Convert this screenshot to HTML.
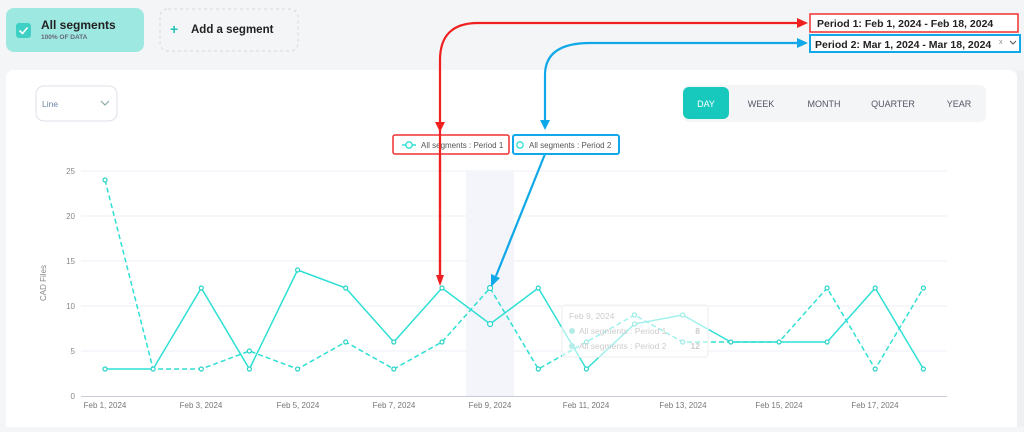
<!DOCTYPE html>
<html><head><meta charset="utf-8"><style>
body{margin:0;width:1024px;height:427px;overflow:hidden;background:#f4f5f7;font-family:"Liberation Sans",sans-serif}
</style></head><body>
<svg width="1024" height="427" xmlns="http://www.w3.org/2000/svg" font-family="Liberation Sans, sans-serif">
<rect width="1024" height="427" fill="#f4f5f7"/>
<!-- segment cards -->
<rect x="6" y="8" width="138" height="44" rx="8" fill="#9de8e1"/>
<rect x="16" y="23" width="15" height="15" rx="3" fill="#3fd0c5"/>
<path d="M19.5 30.5l3 3 5-6" stroke="#fff" stroke-width="1.6" fill="none"/>
<text x="41" y="29" font-size="12" font-weight="bold" fill="#222">All segments</text>
<text x="41" y="39" font-size="6.5" font-weight="bold" fill="#667">100% OF DATA</text>
<rect x="160" y="9" width="138" height="42" rx="8" fill="none" stroke="#d5d8dc" stroke-dasharray="3,3"/>
<text x="170" y="34" font-size="14" font-weight="bold" fill="#1fc2b6">+</text>
<text x="191" y="33" font-size="11.5" font-weight="bold" fill="#222">Add a segment</text>
<!-- main card -->
<rect x="6" y="70" width="1011" height="370" rx="8" fill="#fff"/>
<rect x="1017" y="70" width="7" height="360" fill="#eef0f2"/>
<rect x="36" y="86" width="81" height="35" rx="8" fill="#fff" stroke="#dde2e8"/>
<text x="42" y="107" font-size="8.5" fill="#6a86a6">Line</text>
<path d="M101 101l4 4 4-4" stroke="#8aa" fill="none" stroke-width="1.2"/>
<rect x="683" y="85" width="303" height="37" rx="6" fill="#f4f5f7"/>
<rect x="683" y="87" width="46" height="32" rx="6" fill="#17c8bc"/>
<g font-size="9" fill="#556" text-anchor="middle">
<text x="706" y="107" fill="#fff">DAY</text><text x="761" y="107">WEEK</text><text x="824" y="107">MONTH</text><text x="893" y="107">QUARTER</text><text x="959" y="107">YEAR</text></g>
<!-- grid -->
<g stroke="#eceff6" stroke-width="1">
<line x1="81" y1="171" x2="947" y2="171"/><line x1="81" y1="216" x2="947" y2="216"/><line x1="81" y1="261" x2="947" y2="261"/><line x1="81" y1="306" x2="947" y2="306"/><line x1="81" y1="351" x2="947" y2="351"/></g>
<rect x="466" y="171" width="48" height="225" fill="#f3f5fa"/>
<line x1="81" y1="396.5" x2="947" y2="396.5" stroke="#c8ccd4"/>
<g font-size="8" fill="#888" text-anchor="end">
<text x="75" y="174">25</text><text x="75" y="219">20</text><text x="75" y="264">15</text><text x="75" y="309">10</text><text x="75" y="354">5</text><text x="75" y="399">0</text></g>
<text transform="translate(46,283) rotate(-90)" font-size="8" fill="#888" text-anchor="middle">CAD Files</text>
<g font-size="8" fill="#777" text-anchor="middle">
<text x="105" y="408">Feb 1, 2024</text><text x="201" y="408">Feb 3, 2024</text><text x="298" y="408">Feb 5, 2024</text><text x="394" y="408">Feb 7, 2024</text><text x="490" y="408">Feb 9, 2024</text><text x="586" y="408">Feb 11, 2024</text><text x="683" y="408">Feb 13, 2024</text><text x="779" y="408">Feb 15, 2024</text><text x="875" y="408">Feb 17, 2024</text></g>
<!-- series -->
<polyline fill="none" stroke="#2ee0d4" stroke-width="1.5" points="105,369 153.1,369 201.3,288 249.4,369 297.6,270 345.7,288 393.8,342 442,288 490.1,324 538.3,288 586.4,369 634.5,324 682.7,315 730.8,342 779,342 827.1,342 875.2,288 923.4,369"/>
<polyline fill="none" stroke="#2ee0d4" stroke-width="1.5" stroke-dasharray="5,3" points="105,180 153.1,369 201.3,369 249.4,351 297.6,369 345.7,342 393.8,369 442,342 490.1,288 538.3,369 586.4,342 634.5,315 682.7,342 730.8,342 779,342 827.1,288 875.2,369 923.4,288"/>
<g fill="#fff" stroke="#2ad3c8" stroke-width="1.2">
<circle cx="105" cy="369" r="2"/><circle cx="153.1" cy="369" r="2"/><circle cx="201.3" cy="288" r="2"/><circle cx="249.4" cy="369" r="2"/><circle cx="297.6" cy="270" r="2"/><circle cx="345.7" cy="288" r="2"/><circle cx="393.8" cy="342" r="2"/><circle cx="442" cy="288" r="2"/><circle cx="490.1" cy="324" r="2.5"/><circle cx="538.3" cy="288" r="2"/><circle cx="586.4" cy="369" r="2"/><circle cx="634.5" cy="324" r="2"/><circle cx="682.7" cy="315" r="2"/><circle cx="730.8" cy="342" r="2"/><circle cx="779" cy="342" r="2"/><circle cx="827.1" cy="342" r="2"/><circle cx="875.2" cy="288" r="2"/><circle cx="923.4" cy="369" r="2"/>
<circle cx="105" cy="180" r="2"/><circle cx="201.3" cy="369" r="2"/><circle cx="249.4" cy="351" r="2"/><circle cx="297.6" cy="369" r="2"/><circle cx="345.7" cy="342" r="2"/><circle cx="393.8" cy="369" r="2"/><circle cx="442" cy="342" r="2"/><circle cx="490.1" cy="288" r="2.5"/><circle cx="538.3" cy="369" r="2"/><circle cx="586.4" cy="342" r="2"/><circle cx="634.5" cy="315" r="2"/><circle cx="682.7" cy="342" r="2"/><circle cx="827.1" cy="288" r="2"/><circle cx="875.2" cy="369" r="2"/><circle cx="923.4" cy="288" r="2"/></g>
<!-- tooltip faded -->
<rect x="562" y="305" width="146" height="52" rx="3" fill="#fff" fill-opacity="0.55" stroke="#eee"/>
<g font-size="8.5" fill="#ccc"><text x="569" y="319">Feb 9, 2024</text>
<circle cx="572" cy="331" r="3" fill="#b5ece7"/><text x="579" y="334">All segments : Period 1</text><text x="700" y="334" text-anchor="end" font-weight="bold">8</text>
<circle cx="572" cy="346" r="3" fill="#b5ece7"/><text x="579" y="349">All segments : Period 2</text><text x="700" y="349" text-anchor="end" font-weight="bold">12</text></g>
<!-- legend -->
<rect x="393" y="135" width="116" height="19" rx="2" fill="#fff" stroke="#f03030" stroke-width="1.5"/>
<line x1="402" y1="145" x2="416" y2="145" stroke="#2ee0d4" stroke-width="1.5"/><circle cx="409" cy="145" r="3.2" fill="#fff" stroke="#2ee0d4" stroke-width="1.3"/>
<text x="421" y="148" font-size="8" fill="#555">All segments : Period 1</text>
<rect x="513" y="135" width="106" height="19" rx="2" fill="#fff" stroke="#10a8e8" stroke-width="2"/>
<circle cx="520" cy="145" r="3.2" fill="#fff" stroke="#2ee0d4" stroke-width="1.3"/>
<text x="529" y="148" font-size="8" fill="#555">All segments : Period 2</text>
<!-- period boxes -->
<rect x="810" y="14" width="208" height="18" fill="#fff" stroke="#f03030" stroke-width="1.5"/>
<text x="817" y="27" font-size="10.5" font-weight="bold" fill="#222">Period 1: Feb 1, 2024 - Feb 18, 2024</text>
<rect x="810" y="35" width="210" height="17" fill="#fff" stroke="#10a8e8" stroke-width="2"/>
<text x="815" y="48" font-size="10.5" font-weight="bold" fill="#222">Period 2: Mar 1, 2024 - Mar 18, 2024</text>
<text x="999" y="44" font-size="7" fill="#888">x</text>
<path d="M1010 41l3 3 3-3" stroke="#555" fill="none"/>
<!-- arrows -->
<path d="M440 283 V60 Q440 23 478 23 H800" fill="none" stroke="#f02020" stroke-width="2.2"/>
<path d="M808 23l-11 -5v10z" fill="#f02020"/>
<path d="M440 135 v0" /><path d="M435 122l5 10 5-10z" fill="#f02020"/>
<path d="M436 275l4 11 4-11z" fill="#f02020"/>
<line x1="440" y1="154" x2="440" y2="276" stroke="#f02020" stroke-width="2.2"/>
<path d="M545 126 V75 Q545 43 590 43 H800" fill="none" stroke="#10a8e8" stroke-width="2.2"/>
<path d="M808 43l-11 -5v10z" fill="#10a8e8"/>
<path d="M540 120l5 10 5-10z" fill="#10a8e8"/>
<line x1="545" y1="154" x2="496" y2="276" stroke="#10a8e8" stroke-width="2.2"/>
<path d="M491 287l0-13 9 4z" fill="#10a8e8"/>
</svg>
</body></html>
